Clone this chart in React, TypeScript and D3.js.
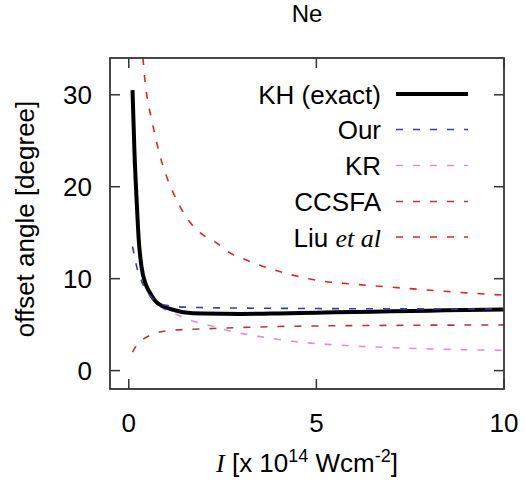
import React, { useEffect, useRef } from 'react'
import * as d3 from 'd3'

// data (x in 10^14 W/cm^2, y in degrees)
const khX = [0.1, 0.15, 0.21, 0.27, 0.34, 0.45, 0.56, 0.7, 0.91, 1.2, 1.45, 2, 3, 4, 5, 6, 7, 8, 9, 10]
const khY = [30.5, 24, 18.5, 14, 11.3, 9.4, 8.5, 7.6, 7.0, 6.6, 6.35, 6.2, 6.17, 6.22, 6.3, 6.37, 6.45, 6.52, 6.6, 6.66]

const ourX = [0.1, 0.15, 0.2, 0.3, 0.4, 0.5, 0.7, 1, 1.5, 2, 3, 5, 7, 10]
const ourY = [13.5, 12.5, 11.5, 10.2, 9.2, 8.5, 7.6, 7.1, 6.9, 6.85, 6.8, 6.75, 6.72, 6.7]

const krX = [0.12, 0.15, 0.21, 0.3, 0.4, 0.56, 0.7, 0.9, 1.28, 1.7, 2.16, 2.8, 3.5, 4.57, 5.5, 6.35, 7, 8.1, 9, 10]
const krY = [23, 21, 17.5, 12.5, 10, 8.3, 7.5, 6.8, 6.1, 5.4, 4.9, 4.2, 3.7, 3.1, 2.8, 2.6, 2.5, 2.35, 2.27, 2.2]

const ccsfaX = [0.1, 0.2, 0.38, 0.6, 0.83, 1.2, 1.7, 2.35, 3.5, 5, 7, 10]
const ccsfaY = [2.0, 2.7, 3.4, 3.9, 4.2, 4.4, 4.5, 4.6, 4.75, 4.86, 4.92, 4.97]

const liuX = [0.38, 0.42, 0.49, 0.6, 0.83, 1.0, 1.19, 1.37, 1.6, 1.9, 2.34, 2.7, 3.15, 4, 4.9, 6, 7.23, 8.5, 10]
const liuY = [34, 32, 29.7, 27.5, 23.4, 21.2, 19.3, 17.8, 16.3, 15, 13.9, 12.8, 12, 10.8, 9.9, 9.4, 9.0, 8.6, 8.2]

const xTicks = [0, 5, 10]
const yTicks = [0, 10, 20, 30]

const series = [
  { name: 'KH (exact)', xs: khX, ys: khY, color: '#000000', width: 4, dash: null },
  { name: 'Our', xs: ourX, ys: ourY, color: '#2e3fb0', width: 1.6, dash: '7,10' },
  { name: 'KR', xs: krX, ys: krY, color: '#d992d9', width: 1.6, dash: '7,10' },
  { name: 'CCSFA', xs: ccsfaX, ys: ccsfaY, color: '#b03a3a', width: 1.6, dash: '7,10' },
  { name: 'Liu', xs: liuX, ys: liuY, color: '#e52222', width: 1.6, dash: '7,10' },
]

const App = () => {
  const svgRef = useRef(null)

  useEffect(() => {
    const svg = d3.select(svgRef.current)
    svg.selectAll('*').remove()

    const left = 110
    const right = 504
    const top = 58
    const bottom = 389
    const font = '"Liberation Sans", Arial, sans-serif'

    const x = d3.scaleLinear().domain([-0.5, 10]).range([left, right])
    const y = d3.scaleLinear().domain([-2, 34]).range([bottom, top])

    svg.append('rect').attr('width', 525).attr('height', 486).attr('fill', '#fff')

    svg
      .append('defs')
      .append('clipPath')
      .attr('id', 'plotclip')
      .append('rect')
      .attr('x', left)
      .attr('y', top)
      .attr('width', right - left)
      .attr('height', bottom - top)

    // title
    svg
      .append('text')
      .text('Ne')
      .attr('x', (left + right) / 2)
      .attr('y', 22)
      .attr('text-anchor', 'middle')
      .style('font-family', font)
      .style('font-size', '24px')

    // ticks (inward, mirrored)
    const tickLen = 10
    const ticks = svg.append('g').attr('stroke', '#333').attr('stroke-width', 1.5)
    xTicks.forEach((t) => {
      ticks.append('line').attr('x1', x(t)).attr('x2', x(t)).attr('y1', bottom).attr('y2', bottom - tickLen)
      ticks.append('line').attr('x1', x(t)).attr('x2', x(t)).attr('y1', top).attr('y2', top + tickLen)
    })
    yTicks.forEach((t) => {
      ticks.append('line').attr('x1', left).attr('x2', left + tickLen).attr('y1', y(t)).attr('y2', y(t))
      ticks.append('line').attr('x1', right).attr('x2', right - tickLen).attr('y1', y(t)).attr('y2', y(t))
    })

    // tick labels
    svg
      .selectAll('.xlab')
      .data(xTicks)
      .enter()
      .append('text')
      .attr('class', 'xlab')
      .text((d) => d)
      .attr('x', (d) => x(d))
      .attr('y', 432)
      .attr('text-anchor', 'middle')
      .style('font-family', font)
      .style('font-size', '26px')

    svg
      .selectAll('.ylab')
      .data(yTicks)
      .enter()
      .append('text')
      .attr('class', 'ylab')
      .text((d) => d)
      .attr('x', 92)
      .attr('y', (d) => y(d) + 9)
      .attr('text-anchor', 'end')
      .style('font-family', font)
      .style('font-size', '26px')

    // axis labels
    svg
      .append('text')
      .text('offset angle [degree]')
      .attr('transform', 'rotate(-90)')
      .attr('x', -219)
      .attr('y', 34)
      .attr('text-anchor', 'middle')
      .style('font-family', font)
      .style('font-size', '26px')

    const xl = svg
      .append('text')
      .attr('x', 307)
      .attr('y', 472)
      .attr('text-anchor', 'middle')
      .style('font-family', font)
      .style('font-size', '26px')
    xl.append('tspan').text('I').style('font-family', '"Liberation Serif", serif').style('font-style', 'italic')
    xl.append('tspan').text(' [x 10')
    xl.append('tspan').text('14').attr('dy', -10).style('font-size', '18px')
    xl.append('tspan').text(' Wcm').attr('dy', 10)
    xl.append('tspan').text('-2').attr('dy', -10).style('font-size', '18px')
    xl.append('tspan').text(']').attr('dy', 10)

    // curves
    const line = d3
      .line()
      .x((d) => x(d[0]))
      .y((d) => y(d[1]))
      .curve(d3.curveMonotoneX)

    const curves = svg.append('g').attr('clip-path', 'url(#plotclip)')
    // dashed ones under the exact curve, blue on top
    const order = [2, 3, 4, 0, 1]
    order.forEach((i) => {
      const s = series[i]
      const pts = s.xs.map((v, j) => [v, s.ys[j]])
      curves
        .append('path')
        .attr('d', line(pts))
        .attr('fill', 'none')
        .attr('stroke', s.color)
        .attr('stroke-width', s.width)
        .attr('stroke-dasharray', s.dash)
    })

    // legend
    const rowY = [94, 129.5, 165.5, 201.5, 237]
    const legend = svg
      .selectAll('.legend')
      .data(series)
      .enter()
      .append('g')
      .attr('class', 'legend')

    legend
      .append('line')
      .attr('x1', 396)
      .attr('x2', 468)
      .attr('y1', (d, i) => rowY[i])
      .attr('y2', (d, i) => rowY[i])
      .attr('stroke', (d) => d.color)
      .attr('stroke-width', (d) => d.width)
      .attr('stroke-dasharray', (d) => d.dash)

    legend.each(function (d, i) {
      const t = d3
        .select(this)
        .append('text')
        .attr('x', 381)
        .attr('y', rowY[i] + 9.5)
        .attr('text-anchor', 'end')
        .style('font-family', font)
        .style('font-size', '26px')
      if (d.name === 'Liu') {
        t.append('tspan').text('Liu ')
        t.append('tspan')
          .text('et al')
          .style('font-family', '"Liberation Serif", serif')
          .style('font-style', 'italic')
      } else {
        t.text(d.name)
      }
    })

    // frame
    svg
      .append('rect')
      .attr('x', left)
      .attr('y', top)
      .attr('width', right - left)
      .attr('height', bottom - top)
      .attr('fill', 'none')
      .attr('stroke', '#333')
      .attr('stroke-width', 1.8)
  }, [])

  return (
    <svg
      ref={svgRef}
      width={525}
      height={486}
      style={{ display: 'block', position: 'absolute', left: 0, top: 0 }}
    ></svg>
  )
}

export default App
